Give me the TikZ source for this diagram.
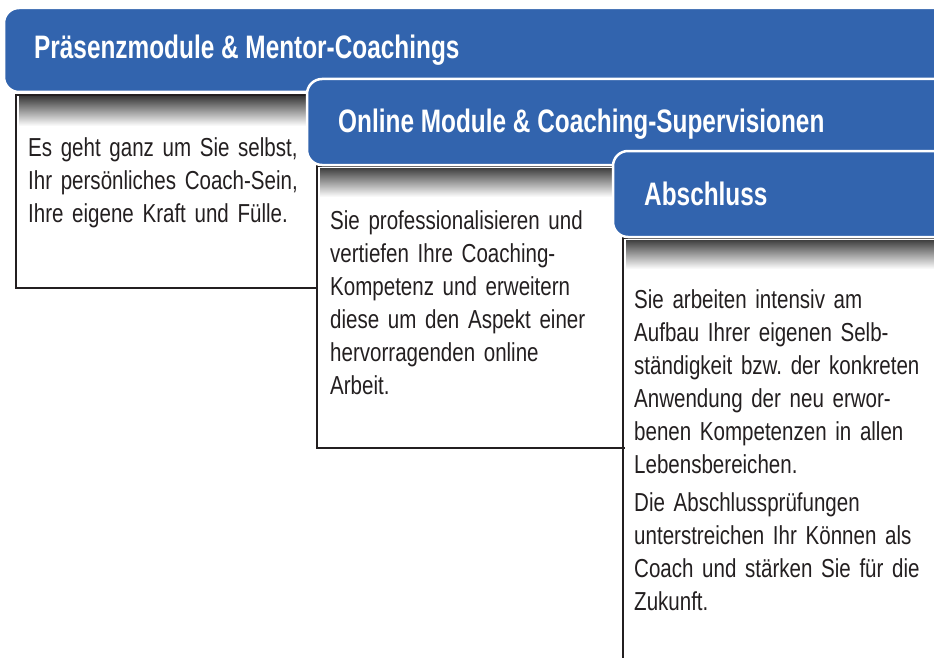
\documentclass[tikz,border=0pt]{standalone}
\usepackage{fontspec}
\setmainfont{Liberation Sans}[FakeStretch=0.79]
\newfontfamily\kopffont{Liberation Sans}[FakeStretch=0.75]
\usepackage{xcolor}
\usetikzlibrary{positioning}
\definecolor{blau1}{RGB}{50,100,174}
\definecolor{tinte}{RGB}{35,31,32}

\begin{document}
\frenchspacing
\begin{tikzpicture}[x=1pt,y=-1pt,
  balken/.style={fill=blau1,draw=white,line width=2.5pt,rounded corners=15pt},
  kopf/.style={anchor=base west,inner sep=0pt,text=white,font=\kopffont\fontsize{32.5}{38}\selectfont\bfseries},
  rahmen/.style={draw=tinte,line width=2.6pt},
  schatten/.style={top color=black!75,bottom color=white,draw=none},
  fliess/.style={anchor=base west,inner sep=0pt,align=left,text width=300pt,text=tinte,font=\fontsize{26}{33}\selectfont}]
\useasboundingbox (0,0) rectangle (934,658);
\clip (0,0) rectangle (934,658);

% erste Stufe
\fill[schatten] (19,97) rectangle (310,126);
\draw[rahmen] (310,95) -- (16,95) -- (16,288) -- (318,288);
\node[fliess] (text1) at (28,157) {Es geht ganz um Sie selbst,\\Ihr persönliches Coach-Sein,\\Ihre eigene Kraft und Fülle.};
\draw[balken] (4,8) rectangle (960,92);
\node[kopf] (kopf1) at (34,59) {Präsenzmodule \& Mentor-Coachings};

% zweite Stufe
\fill[schatten] (320,168) rectangle (615,197);
\draw[rahmen] (615,166) -- (317,166) -- (317,448) -- (625,448);
\node[fliess] (text2) at (330,229) {Sie professionalisieren und\\vertiefen Ihre Coaching-\\Kompetenz und erweitern\\diese um den Aspekt einer\\hervorragenden online\\Arbeit.};
\draw[balken] (307,79) rectangle (960,165);
\node[kopf] (kopf2) at (338,133) {Online Module \& Coaching-Supervisionen};

% dritte Stufe
\fill[schatten] (626,240) rectangle (934,269);
\draw[rahmen] (960,238) -- (623,238) -- (623,670);
\node[fliess] (text3) at (634,308) {Sie arbeiten intensiv am\\Aufbau Ihrer eigenen Selb-\\ständigkeit bzw. der konkreten\\Anwendung der neu erwor-\\benen Kompetenzen in allen\\Lebensbereichen.\\[5pt]Die Abschlussprüfungen\\unterstreichen Ihr Können als\\Coach und stärken Sie für die\\Zukunft.};
\draw[balken] (613,151) rectangle (960,237);
\node[kopf] (kopf3) at (644,205) {Abschluss};
\end{tikzpicture}
\end{document}
